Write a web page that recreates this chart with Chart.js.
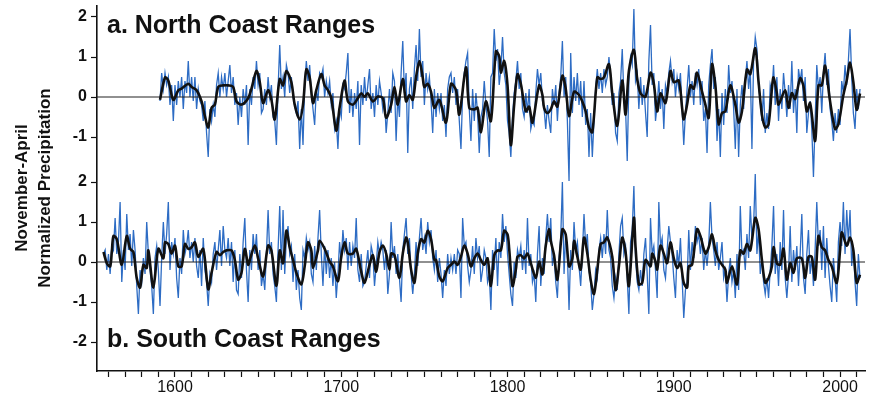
<!DOCTYPE html>
<html>
<head>
<meta charset="utf-8">
<script src="https://cdn.jsdelivr.net/npm/chart.js@4.4.1/dist/chart.umd.min.js"></script>
<style>
  html, body { margin: 0; background: #fff; }
  #wrap { width: 875px; height: 394px; }
</style>
</head>
<body>
<div id="wrap"><canvas id="chart" width="875" height="394"></canvas></div>
<script>
// annual values, north panel starts 1591, south panel 1557
const northStart = 1591;
const northAnnual = [
  -0.1,0.6,0.2,0.6,0.3,0.5,-0.2,0.3,-0.6,0.3,-0.2,0.4,0.0,0.5,-0.3,0.4,
  0.1,0.9,0.0,0.5,-0.1,0.5,-0.3,0.2,-0.1,-0.2,-0.6,-0.1,-0.9,-1.5,-0.3,-0.6,
  -0.2,-0.5,0.3,0.6,0.0,0.5,0.2,0.6,0.0,0.4,0.8,0.1,0.5,-0.2,0.1,-0.7,
  0.0,-0.5,0.2,-0.2,0.3,-1.2,0.2,-0.2,0.5,0.2,0.9,0.3,0.6,-0.4,-0.3,0.2,
  -0.2,0.5,0.0,0.3,-0.5,-0.6,-1.2,0.2,1.3,0.2,0.5,0.0,0.8,0.6,0.1,0.5,
  0.0,-0.2,-0.4,-0.1,-1.3,-0.3,-1.2,0.3,0.9,0.4,0.8,0.1,-0.3,-0.7,0.2,-0.1,
  0.6,0.5,0.7,0.0,0.4,0.1,0.4,-0.2,0.1,-0.8,-0.6,-1.3,-0.3,-0.5,0.3,0.2,
  0.6,1.1,-0.4,0.2,-0.5,0.1,-0.3,0.4,-1.2,0.3,-0.2,0.5,-0.1,0.3,0.7,-0.3,
  0.1,-0.5,0.3,-0.2,0.4,0.1,-0.3,0.0,-0.9,-0.4,0.2,-0.4,0.6,0.4,-1.1,0.0,
  -0.5,0.6,1.4,0.1,0.6,-1.4,0.2,0.5,-0.3,0.7,1.3,0.4,1.7,0.5,0.9,-0.2,
  0.6,0.2,0.5,-0.1,-0.9,0.2,-0.5,0.1,-0.3,0.1,-0.6,-0.2,-1.0,0.2,0.5,0.6,
  0.1,0.5,-0.2,0.2,-0.6,-1.3,0.1,0.6,0.9,1.1,-0.3,-1.1,0.2,-0.6,0.1,-0.4,
  -1.4,-0.5,-0.3,0.4,-0.2,-0.6,-1.5,0.5,0.6,1.7,0.9,1.2,0.3,0.7,1.5,0.6,
  0.3,-0.6,-0.9,-1.5,-0.5,0.1,0.4,0.9,0.2,0.6,-0.3,-0.5,0.1,-0.4,0.2,-0.8,
  -0.6,-0.7,0.1,0.7,0.3,0.6,-0.1,-0.3,-0.8,-0.2,-0.6,-0.9,0.2,-0.2,0.3,-0.6,
  0.1,0.5,1.4,0.0,0.5,-0.6,-2.1,1.1,-0.4,0.5,-0.1,0.6,-0.2,0.4,-0.5,0.4,
  -0.7,-0.3,-1.5,-0.4,-1.5,-0.6,0.2,0.7,0.2,0.6,0.1,0.7,0.3,0.5,1.0,0.5,
  -0.2,0.1,-0.9,-1.1,0.1,0.4,1.2,0.0,-0.3,-1.6,0.4,1.0,0.8,2.2,0.4,0.6,
  -0.3,0.5,-0.2,0.3,-0.4,-1.0,0.9,1.8,0.3,0.6,-0.6,-0.2,0.4,-0.3,0.2,-0.8,
  0.3,0.1,0.6,0.9,0.4,0.7,0.0,0.5,0.2,0.6,-0.3,-1.2,-0.4,0.2,0.8,0.0,
  0.4,-0.2,0.6,0.3,0.7,-0.2,0.4,-0.6,-0.3,-1.4,0.3,0.8,1.2,0.2,0.5,-1.1,
  -0.3,-1.5,0.1,-0.7,0.2,-0.4,0.8,0.1,0.4,-0.3,-1.3,0.2,-1.5,-0.2,0.3,-0.3,
  0.4,0.9,0.2,0.7,-1.3,0.9,1.5,1.2,0.3,-0.1,-0.6,0.2,-0.9,-0.4,-0.8,0.3,
  0.1,0.8,-0.2,0.5,-0.6,0.2,-0.3,0.6,0.1,-0.5,0.3,-0.3,0.9,-0.4,0.2,-0.9,
  0.7,0.4,0.7,-0.1,0.5,-0.9,-0.4,-0.1,-0.8,-2.0,-0.6,0.8,0.2,0.5,-0.4,0.6,
  1.1,0.3,0.7,-0.3,-0.6,-1.1,-0.4,-0.9,-0.3,-0.7,0.4,0.1,0.8,0.3,0.9,1.7,
  0.5,-0.4,-0.8,0.2,-0.3,0.2
];
const northSmoothYears = [
  1591,1594,1596,1599,1602,1604,1608,1610,1613,1616,1618,1620,1622,1624,1626,1629,
  1632,1635,1637,1640,1644,1646,1649,1651,1653,1656,1658,1660,1663,1665,1667,1670,
  1672,1675,1677,1679,1681,1683,1685,1688,1690,1692,1694,1697,1699,1702,1704,1707,
  1710,1712,1714,1716,1719,1722,1725,1727,1730,1732,1734,1737,1739,1741,1743,1745,
  1747,1749,1750,1752,1754,1756,1759,1763,1766,1769,1771,1775,1777,1780,1782,1784,
  1787,1790,1793,1795,1796,1798,1800,1802,1804,1806,1808,1811,1813,1815,1819,1821,
  1822,1824,1826,1828,1830,1833,1835,1837,1840,1843,1845,1847,1849,1851,1854,1856,
  1858,1861,1863,1866,1869,1871,1873,1876,1878,1880,1883,1886,1888,1890,1892,1895,
  1898,1900,1903,1905,1906,1908,1910,1912,1914,1917,1919,1921,1923,1925,1927,1929,
  1931,1934,1937,1939,1941,1944,1946,1949,1951,1953,1955,1957,1959,1960,1962,1963,
  1967,1969,1971,1973,1976,1978,1980,1982,1985,1987,1989,1991,1994,1997,1999,2002,
  2004,2006,2008,2010,2012
];
const northSmooth = [
  -0.07,0.49,0.41,-0.07,0.17,0.21,0.33,0.25,0.17,-0.11,-0.48,-0.76,-0.27,-0.19,0.25,0.29,
  0.29,0.25,-0.11,-0.19,-0.03,0.21,0.65,0.37,-0.15,0.17,-0.07,-0.56,0.45,0.29,0.65,0.37,
  -0.19,-0.56,-0.19,0.69,0.49,-0.15,0.17,0.57,0.29,0.17,-0.03,-0.84,-0.27,0.41,-0.11,-0.19,
  -0.03,0.09,0.01,0.09,-0.11,0.01,-0.03,-0.52,-0.19,0.25,-0.19,0.45,-0.11,0.05,-0.07,0.5,
  0.9,0.49,0.25,0.33,0.13,-0.27,-0.07,-0.64,0.33,0.17,-0.44,0.74,-0.27,-0.31,-0.27,-0.88,
  -0.11,-0.6,1.14,1.02,0.61,0.9,0.29,-1.2,-0.19,0.57,0.33,-0.36,-0.24,-0.64,0.29,0.05,
  -0.27,-0.4,-0.31,-0.11,-0.24,0.53,0.21,-0.48,0.13,0.05,-0.11,-0.36,-0.76,-0.88,0.49,0.45,
  0.49,0.82,0.09,-0.72,0.41,-0.44,0.65,1.18,0.45,0.09,0.01,0.61,0.33,-0.36,0.09,-0.15,
  0.65,0.37,0.41,-0.27,-0.56,-0.19,0.29,0.21,0.61,0.13,-0.19,-0.52,0.82,0.29,-0.68,-0.4,
  -0.36,0.29,-0.19,-0.64,-0.36,0.69,0.57,1.22,0.37,-0.44,-0.76,-0.68,0.21,0.49,0.09,-0.19,
  0.17,-0.27,0.1,-0.05,0.47,0.27,-0.36,-0.15,-1.1,0.29,0.29,0.78,-0.11,-0.8,-0.68,0.05,
  0.41,0.86,0.37,-0.32,0.09
];

const southStart = 1557;
const southAnnual = [
  0.2,0.3,-0.2,0.2,-0.3,0.4,0.3,1.1,0.2,0.5,1.5,-0.5,0.3,-0.2,1.2,0.3,
  0.7,-0.1,0.8,0.3,-0.6,-1.3,-0.2,-0.5,0.1,-0.3,1.0,0.2,-0.2,-0.6,-1.3,0.1,
  0.4,-0.2,-1.1,0.1,1.0,0.2,0.7,1.5,-0.2,0.5,0.2,0.6,-0.4,-0.9,0.1,-0.3,
  0.8,0.2,0.4,0.8,0.1,0.5,0.0,0.6,-0.1,-0.4,0.3,-0.6,0.6,-0.2,-0.5,-1.1,
  -0.3,-0.5,0.2,0.5,-0.2,0.3,0.8,-0.1,0.9,0.3,0.1,0.6,-0.1,0.5,-0.5,0.3,
  -0.7,-0.8,0.2,-0.4,0.5,1.1,-0.2,-1.0,0.3,-0.2,0.7,0.2,0.7,-0.2,0.3,-0.6,
  -0.3,-0.7,0.2,1.3,0.2,0.5,-0.3,-0.6,-1.0,0.3,1.4,-0.2,1.3,-0.3,0.6,0.9,
  0.2,0.4,-0.5,0.2,-0.7,-0.2,-0.9,-1.2,0.3,0.1,0.6,0.3,0.5,-0.3,-0.5,0.4,
  -0.2,0.6,1.3,0.2,-0.6,0.4,-0.3,0.3,-0.4,0.1,-0.6,0.0,-0.9,-0.3,0.5,0.0,
  0.8,0.3,0.6,-0.2,0.5,-0.1,0.4,0.1,1.1,-0.2,-0.5,0.2,-0.6,-0.5,-0.1,0.3,
  -0.4,0.4,0.2,-0.6,-0.1,0.5,0.2,0.5,0.3,-0.2,0.3,-0.8,-0.3,1.0,0.1,0.4,
  -0.3,0.2,-0.4,-1.0,0.3,0.7,1.1,0.2,0.6,-0.3,-0.8,-0.3,0.5,-0.1,0.6,1.1,
  0.3,0.6,0.2,1.0,0.5,0.8,0.1,-0.2,0.3,-0.5,0.1,-0.3,-0.9,-0.2,-0.6,0.2,
  -0.3,0.1,-0.2,0.2,-0.3,0.3,0.2,-0.9,1.1,0.4,0.5,-0.1,-0.5,-0.2,0.4,-0.3,
  0.6,0.1,0.4,-0.5,-0.2,0.3,0.1,-0.5,-0.3,-1.2,0.3,-0.2,0.6,-0.6,0.5,0.1,
  1.2,0.5,0.9,0.2,-0.3,-0.8,-1.1,0.0,-0.4,0.3,0.1,0.4,-0.2,0.3,-0.3,1.1,
  -0.1,0.2,-0.5,-0.3,-1.0,0.2,0.9,-0.6,0.1,-0.3,0.6,1.2,0.5,1.1,-0.1,0.2,
  -0.5,-0.9,0.1,0.6,2.0,-0.3,0.7,0.2,-1.2,0.3,-0.2,1.0,0.3,0.5,-0.1,-0.6,
  0.2,1.2,0.4,0.7,-0.2,-0.5,-1.2,-0.8,-0.2,-0.4,0.3,0.6,0.1,0.7,0.2,1.3,
  0.3,0.1,-0.6,-0.9,-0.4,-0.7,0.2,0.9,1.1,0.2,0.4,-0.4,-1.3,0.5,0.8,1.9,
  0.1,-0.5,-0.7,-0.2,-0.6,0.2,0.6,-0.3,-1.3,1.1,0.2,0.4,-0.2,-0.9,1.5,0.4,
  0.6,-0.2,-0.4,0.3,0.9,0.5,0.2,-0.4,-0.9,0.3,-0.1,0.6,-0.4,-1.4,-0.7,-0.5,
  0.8,-0.2,0.5,0.1,0.9,0.5,0.7,0.2,0.6,-0.2,0.3,-0.1,0.4,1.5,0.6,0.3,
  -0.1,0.5,-0.2,0.1,0.5,-0.4,-0.2,-1.0,-0.3,0.1,-0.5,-0.2,-0.9,0.2,-0.7,1.4,
  0.2,0.3,-0.2,0.7,0.1,1.4,0.6,0.9,2.2,0.2,0.8,-0.3,0.1,-0.5,-0.8,-0.4,
  -0.9,-0.2,0.4,1.4,-0.3,0.2,-0.6,0.5,-0.2,1.3,-0.4,-0.9,-0.3,0.9,-0.5,0.3,
  -0.2,0.4,-0.6,0.2,1.2,-0.4,-0.8,0.2,0.8,-0.3,0.1,-0.6,0.3,1.5,0.4,0.8,
  -0.2,0.9,-0.4,0.6,-0.1,-0.6,-1.0,0.1,-0.4,-1.0,0.5,1.0,0.4,1.5,0.2,1.3,
  0.5,1.3,-0.1,0.4,-0.5,-1.1,0.2,-0.4
];
const southSmoothYears = [
  1557,1559,1561,1562,1563,1565,1568,1571,1573,1575,1577,1579,1581,1583,1584,1587,
  1590,1593,1594,1596,1598,1600,1602,1604,1606,1608,1610,1612,1614,1617,1620,1622,
  1625,1627,1629,1631,1634,1636,1638,1640,1642,1644,1645,1648,1650,1653,1656,1658,
  1661,1663,1665,1667,1669,1671,1673,1676,1678,1680,1682,1683,1686,1687,1690,1693,
  1695,1698,1700,1702,1704,1707,1709,1712,1714,1717,1719,1721,1723,1725,1727,1729,
  1730,1732,1735,1737,1739,1740,1742,1744,1746,1748,1750,1752,1754,1756,1757,1759,
  1761,1764,1766,1768,1770,1772,1774,1776,1778,1780,1782,1784,1786,1788,1790,1792,
  1794,1796,1798,1800,1801,1803,1805,1806,1808,1810,1812,1814,1817,1819,1821,1823,
  1825,1826,1828,1830,1833,1835,1837,1839,1840,1842,1844,1846,1848,1850,1852,1854,
  1856,1858,1860,1863,1865,1867,1869,1871,1873,1876,1877,1879,1881,1883,1886,1887,
  1889,1890,1892,1894,1896,1898,1900,1902,1904,1906,1908,1909,1911,1914,1916,1919,
  1921,1923,1925,1927,1929,1931,1932,1935,1938,1940,1942,1944,1946,1949,1951,1953,
  1955,1957,1959,1960,1962,1964,1966,1968,1970,1972,1974,1977,1979,1981,1983,1985,
  1987,1989,1991,1993,1995,1998,2000,2001,2004,2006,2008,2010,2012
];
const southSmooth = [
  0.25,-0.03,-0.11,0.25,0.65,0.57,-0.07,0.65,0.33,0.25,-0.4,-0.64,-0.07,-0.15,0.29,-0.64,
  0.33,0.09,0.49,0.45,0.21,0.41,-0.11,-0.11,0.45,0.33,0.37,0.49,0.13,0.33,-0.68,-0.27,
  0.25,0.17,0.25,0.29,0.29,0.05,-0.44,-0.27,0.33,-0.07,0.05,0.41,0.09,-0.36,0.41,0.29,
  -0.6,0.29,-0.03,0.78,0.37,0.05,-0.27,-0.56,-0.11,0.49,0.29,-0.15,0.29,0.53,0.33,0.01,
  -0.11,-0.48,0.13,0.49,0.21,0.21,0.33,-0.24,-0.52,-0.07,0.17,-0.24,0.25,0.41,0.21,-0.19,
  0.21,0.17,-0.4,0.21,0.61,0.49,-0.19,-0.52,0.21,0.57,0.49,0.78,0.57,0.05,0.05,-0.36,
  -0.48,-0.15,-0.07,0.01,-0.07,0.13,0.41,0.21,-0.11,0.09,0.21,0.05,-0.07,0.09,-0.6,0.17,
  0.29,0.29,0.78,0.69,0.33,-0.6,-0.19,0.13,0.17,0.09,0.21,-0.03,-0.4,0.01,-0.31,0.41,
  0.82,0.53,0.17,-0.44,0.82,0.69,-0.11,0.09,0.53,0.13,-0.19,0.61,0.21,-0.44,-0.8,-0.19,
  0.45,0.49,0.61,0.13,-0.7,-0.1,0.61,0.25,-0.6,1.1,0.37,-0.56,-0.52,0.05,-0.11,0.21,
  0.01,-0.19,0.41,0.21,-0.03,0.49,0.09,-0.15,-0.03,-0.52,-0.64,-0.11,-0.07,0.82,0.65,0.21,
  0.37,0.69,0.29,0.05,-0.07,-0.19,-0.52,-0.11,-0.56,0.29,0.21,0.45,0.29,1.1,0.82,0.05,
  -0.52,-0.4,-0.11,0.37,-0.03,-0.07,0.33,-0.44,-0.03,-0.27,0.09,0.09,-0.4,0.13,0.13,-0.44,
  0.65,0.37,0.29,0.05,-0.11,-0.52,0.29,0.74,0.41,0.61,0.29,-0.52,-0.32
];

const panelTitles = ["a. North Coast Ranges", "b. South Coast Ranges"];
const yTitle = ["November-April", "Normalized Precipitation"];
const upperShift = 4.125;       // north panel sits above the south panel on one shared axis
const panelTicks = [-2, -1, 0, 1, 2];
const upperTicks = [-1, 0, 1, 2];
const xMin = 1553.1, xMax = 2015;

const toPoints = (start, vals, shift) => vals.map((v, i) => ({ x: start + i, y: v + shift }));
const toPairs = (yrs, vals, shift) => yrs.map((yr, i) => ({ x: yr, y: vals[i] + shift }));

const blue = "#2d6cc4";
const black = "#111111";

const datasets = [
  { data: toPairs(northSmoothYears, northSmooth, upperShift), borderColor: black, borderWidth: 2.6, tension: 0.3, order: 0 },
  { data: toPairs(southSmoothYears, southSmooth, 0), borderColor: black, borderWidth: 2.6, tension: 0.3, order: 0 },
  { data: [{ x: xMin, y: upperShift }, { x: xMax, y: upperShift }], borderColor: "#222", borderWidth: 1.2, order: 1 },
  { data: [{ x: xMin, y: 0 }, { x: xMax, y: 0 }], borderColor: "#222", borderWidth: 1.2, order: 1 },
  { data: toPoints(northStart, northAnnual, upperShift), borderColor: blue, borderWidth: 1.3, order: 2 },
  { data: toPoints(southStart, southAnnual, 0), borderColor: blue, borderWidth: 1.3, order: 2 }
];

const textPlugin = {
  id: "panelText",
  afterDraw(chart) {
    const ctx = chart.ctx;
    ctx.save();
    ctx.fillStyle = "#111";
    ctx.font = 'bold 25px "Liberation Sans", Arial, sans-serif';
    ctx.textAlign = "left";
    ctx.textBaseline = "alphabetic";
    ctx.fillText(panelTitles[0], 107, 33);
    ctx.fillText(panelTitles[1], 107, 347);
    ctx.font = 'bold 17px "Liberation Sans", Arial, sans-serif';
    ctx.textAlign = "center";
    ctx.textBaseline = "middle";
    ctx.translate(0, 188);
    ctx.rotate(-Math.PI / 2);
    ctx.fillText(yTitle[0], 0, 22);
    ctx.fillText(yTitle[1], 0, 45);
    ctx.restore();
  }
};

new Chart(document.getElementById("chart"), {
  type: "line",
  data: { datasets },
  options: {
    responsive: false,
    animation: false,
    devicePixelRatio: 1,
    layout: { padding: { top: 5, right: 10, left: 0, bottom: 0 } },
    elements: { point: { radius: 0 }, line: { fill: false } },
    plugins: { legend: { display: false }, tooltip: { enabled: false } },
    scales: {
      x: {
        type: "linear",
        min: xMin,
        max: xMax,
        afterFit: s => { s.height = 23; },
        afterBuildTicks: s => {
          const t = [];
          for (let v = 1560; v <= 2010; v += 10) t.push({ value: v });
          s.ticks = t;
        },
        ticks: {
          autoSkip: false,
          maxRotation: 0,
          padding: 1,
          color: "#111",
          font: { family: '"Liberation Sans", Arial, sans-serif', size: 16 },
          callback: v => (v % 100 === 0 ? String(v) : "")
        },
        grid: { drawOnChartArea: false, drawTicks: true, tickLength: 6, tickColor: "#111", tickWidth: 1.2 },
        border: { color: "#111", width: 1.6 }
      },
      y: {
        type: "linear",
        min: -2.725,
        max: 6.41,
        afterFit: s => { s.width = 97; },
        afterBuildTicks: s => {
          s.ticks = panelTicks.concat(upperTicks.map(v => v + upperShift)).map(v => ({ value: v }));
        },
        ticks: {
          padding: 4,
          color: "#111",
          font: { family: '"Liberation Sans", Arial, sans-serif', size: 16, weight: "bold", lineHeight: 0.2 },
          callback: v => String(v > 2.5 ? Math.round(v - upperShift) : v)
        },
        grid: { drawOnChartArea: false, drawTicks: true, tickLength: 6, tickColor: "#111", tickWidth: 1.2 },
        border: { color: "#111", width: 1.6 }
      }
    }
  },
  plugins: [textPlugin]
});
</script>
</body>
</html>
